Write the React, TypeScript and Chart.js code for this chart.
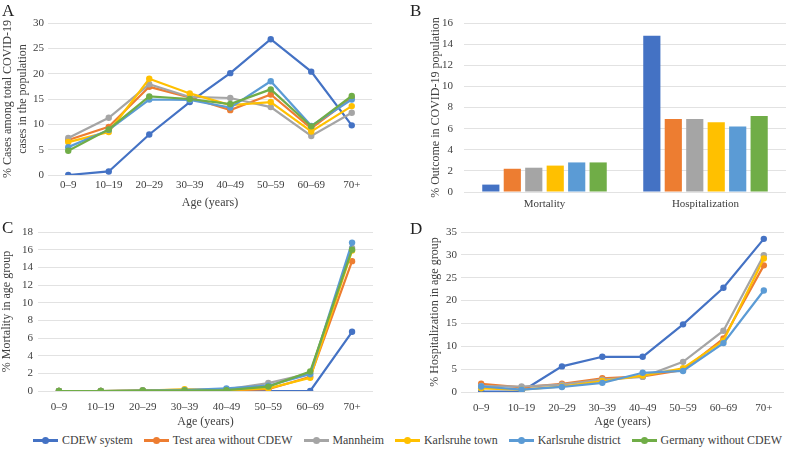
import React, { useEffect, useRef } from 'react';
import { Chart, registerables } from 'chart.js';
Chart.register(...registerables);

const FONT = '"Liberation Serif", "Times New Roman", serif';
const TEXT = '#404040';
const GRID = '#e2e2e2';

const ageGroups = ['0–9', '10–19', '20–29', '30–39', '40–49', '50–59', '60–69', '70+'];
const seriesNames = ['CDEW system', 'Test area without CDEW', 'Mannheim', 'Karlsruhe town', 'Karlsruhe district', 'Germany without CDEW'];
const seriesColors = ['#4472C4', '#ED7D31', '#A5A5A5', '#FFC000', '#5B9BD5', '#70AD47'];

// Panel A: % cases among total COVID-19 cases in the population
const casesCdew = [0, 0.7, 8.0, 14.4, 20.1, 26.8, 20.4, 9.8];
const casesTest = [6.9, 9.5, 17.4, 15.3, 12.8, 15.9, 9.2, 15.2];
const casesMannheim = [7.3, 11.3, 17.9, 15.4, 15.2, 13.4, 7.7, 12.3];
const casesKaTown = [6.5, 8.5, 19.0, 16.1, 13.8, 14.4, 8.6, 13.6];
const casesKaDistrict = [5.5, 8.9, 14.9, 14.8, 13.3, 18.5, 9.7, 14.9];
const casesGermany = [4.8, 9.0, 15.5, 15.0, 14.0, 16.9, 9.6, 15.6];

// Panel B: % outcome in COVID-19 population
const outcomeCategories = ['Mortality', 'Hospitalization'];
const mortalityOutcome = [0.7, 2.2, 2.3, 2.5, 2.8, 2.8];
const hospitalizationOutcome = [14.8, 6.9, 6.9, 6.6, 6.2, 7.2];

// Panel C: % mortality in age group
const mortCdew = [0, 0, 0, 0, 0, 0, 0, 6.7];
const mortTest = [0, 0, 0.05, 0.05, 0.05, 0.2, 1.6, 14.7];
const mortMannheim = [0, 0, 0.05, 0.15, 0.2, 0.9, 2.0, 16.2];
const mortKaTown = [0, 0, 0.05, 0.2, 0.1, 0.3, 1.5, 15.9];
const mortKaDistrict = [0, 0, 0.05, 0.1, 0.3, 0.6, 1.9, 16.8];
const mortGermany = [0, 0, 0.05, 0.05, 0.1, 0.5, 2.2, 16.0];

// Panel D: % hospitalization in age group (no Germany series)
const hospCdew = [0.1, 0.1, 5.6, 7.7, 7.7, 14.8, 22.8, 33.5];
const hospTest = [1.8, 1.0, 1.8, 3.0, 3.4, 4.8, 11.7, 27.7];
const hospMannheim = [1.3, 1.2, 1.6, 2.7, 3.3, 6.6, 13.4, 29.9];
const hospKaTown = [0.8, 0.5, 1.2, 2.4, 3.6, 5.2, 11.2, 29.2];
const hospKaDistrict = [1.2, 0.5, 1.1, 2.0, 4.2, 4.6, 10.7, 22.2];
const hospGermany: (number | null)[] = [null, null, null, null, null, null, null, null];

type Geom = {
  w: number; h: number;
  yWidth: number; yTickPad: number; yTitlePad: number;
  xHeight: number; xTickPad: number; xTitlePad: number;
  padTop: number; padRight: number;
};

function lineConfig(series: (number | null)[][], yMax: number, yStep: number, yTitle: string | string[], g: Geom): any {
  return {
    type: 'line',
    data: {
      labels: ageGroups,
      datasets: series.map((d, i) => ({
        label: seriesNames[i],
        data: d,
        borderColor: seriesColors[i],
        backgroundColor: seriesColors[i],
        pointBackgroundColor: seriesColors[i],
        pointBorderColor: seriesColors[i],
        pointRadius: 3.2,
        pointBorderWidth: 0,
        borderWidth: 2.2,
        tension: 0,
        order: series.length - i,
      })),
    },
    options: {
      responsive: false,
      animation: false,
      devicePixelRatio: 1,
      layout: { padding: { top: g.padTop, right: g.padRight, left: 0, bottom: 0 } },
      plugins: { legend: { display: false }, tooltip: { enabled: false } },
      scales: {
        x: {
          offset: true,
          grid: { display: false, drawTicks: false },
          border: { display: false },
          ticks: { color: TEXT, font: { family: FONT, size: 11 }, padding: g.xTickPad, maxRotation: 0, autoSkip: false },
          title: { display: true, text: 'Age (years)', color: TEXT, font: { family: FONT, size: 12, lineHeight: 1.2 }, padding: { top: 0, bottom: g.xTitlePad } },
          afterFit: (s: any) => { s.height = g.xHeight; },
        },
        y: {
          min: 0, max: yMax,
          grid: { color: GRID, lineWidth: 1, drawTicks: false },
          border: { display: false },
          ticks: { stepSize: yStep, color: TEXT, font: { family: FONT, size: 11 }, padding: g.yTickPad },
          title: { display: true, text: yTitle, color: TEXT, font: { family: FONT, size: 12, lineHeight: 1.2 }, padding: { top: g.yTitlePad, bottom: 0 } },
          afterFit: (s: any) => { s.width = g.yWidth; },
        },
      },
    },
  };
}

function barConfig(g: Geom): any {
  return {
    type: 'bar',
    data: {
      labels: outcomeCategories,
      datasets: seriesNames.map((n, i) => ({
        label: n,
        data: [mortalityOutcome[i], hospitalizationOutcome[i]],
        backgroundColor: seriesColors[i],
        borderWidth: 0,
        barPercentage: 0.8,
        categoryPercentage: 0.8,
      })),
    },
    options: {
      responsive: false,
      animation: false,
      devicePixelRatio: 1,
      layout: { padding: { top: g.padTop, right: g.padRight, left: 0, bottom: 0 } },
      plugins: { legend: { display: false }, tooltip: { enabled: false } },
      scales: {
        x: {
          grid: { display: false, drawTicks: false },
          border: { display: false },
          ticks: { color: TEXT, font: { family: FONT, size: 11 }, padding: g.xTickPad },
          afterFit: (s: any) => { s.height = g.xHeight; },
        },
        y: {
          min: 0, max: 16,
          grid: { color: GRID, lineWidth: 1, drawTicks: false },
          border: { display: false },
          ticks: { stepSize: 2, color: TEXT, font: { family: FONT, size: 11 }, padding: g.yTickPad },
          title: { display: true, text: '% Outcome in COVID-19 population', color: TEXT, font: { family: FONT, size: 12, lineHeight: 1.2 }, padding: { top: g.yTitlePad, bottom: 0 } },
          afterFit: (s: any) => { s.width = g.yWidth; },
        },
      },
    },
  };
}

function Panel({ config, left, top, w, h, letter, lx, ly }: any) {
  const ref = useRef<HTMLCanvasElement>(null);
  useEffect(() => {
    const c = new Chart(ref.current!, config);
    return () => c.destroy();
  }, []);
  return (
    <div style={{ position: 'absolute', left, top, width: w, height: h }}>
      <canvas ref={ref} width={w} height={h} style={{ width: w, height: h, display: 'block' }} />
      <div style={{ position: 'absolute', left: lx, top: ly, fontFamily: FONT, fontSize: 17, color: '#222', lineHeight: '17px' }}>{letter}</div>
    </div>
  );
}

const geomA: Geom = { w: 394, h: 215, yWidth: 48, yTickPad: 4, yTitlePad: 0.8, xHeight: 40, xTickPad: 4, xTitlePad: 4.8, padTop: 23, padRight: 22 };
const geomB: Geom = { w: 394, h: 215, yWidth: 70, yTickPad: 11, yTitlePad: 35, xHeight: 23, xTickPad: 6, xTitlePad: 0, padTop: 23, padRight: 2 };
const geomC: Geom = { w: 394, h: 215, yWidth: 38, yTickPad: 5, yTitlePad: 0, xHeight: 39, xTickPad: 10, xTitlePad: 1.3, padTop: 17, padRight: 21 };
const geomD: Geom = { w: 394, h: 215, yWidth: 67, yTickPad: 4, yTitlePad: 33.7, xHeight: 38, xTickPad: 10, xTitlePad: 1.3, padTop: 17, padRight: 0 };

const cfgA = lineConfig([casesCdew, casesTest, casesMannheim, casesKaTown, casesKaDistrict, casesGermany], 30, 5,
  ['% Cases among total COVID-19', 'cases in the population'], geomA);
const cfgB = barConfig(geomB);
const cfgC = lineConfig([mortCdew, mortTest, mortMannheim, mortKaTown, mortKaDistrict, mortGermany], 18, 2,
  '% Mortality in age group', geomC);
const cfgD = lineConfig([hospCdew, hospTest, hospMannheim, hospKaTown, hospKaDistrict, hospGermany], 35, 5,
  '% Hospitalization in age group', geomD);

function Legend() {
  return (
    <div style={{ position: 'absolute', left: 33, top: 432, display: 'flex', alignItems: 'center', fontFamily: FONT, fontSize: 11.9, color: TEXT, whiteSpace: 'nowrap' }}>
      {seriesNames.map((n, i) => (
        <div key={n} style={{ display: 'flex', alignItems: 'center', marginRight: i < seriesNames.length - 1 ? 11 : 0 }}>
          <div style={{ position: 'relative', width: 25, height: 8, marginRight: 4 }}>
            <div style={{ position: 'absolute', left: 0, top: 3, width: 25, height: 2.5, background: seriesColors[i] }} />
            <div style={{ position: 'absolute', left: 9, top: 0.5, width: 7, height: 7, borderRadius: '50%', background: seriesColors[i] }} />
          </div>
          <span style={{ lineHeight: '16px' }}>{n}</span>
        </div>
      ))}
    </div>
  );
}

export default function App() {
  return (
    <div style={{ position: 'fixed', left: 0, top: 0, width: 788, height: 460, background: '#fff', overflow: 'hidden' }}>
      <Panel config={cfgA} left={0} top={0} w={394} h={215} letter="A" lx={2} ly={2} />
      <Panel config={cfgB} left={394} top={0} w={394} h={215} letter="B" lx={16} ly={2} />
      <Panel config={cfgC} left={0} top={215} w={394} h={215} letter="C" lx={2} ly={4} />
      <Panel config={cfgD} left={394} top={215} w={394} h={215} letter="D" lx={16} ly={5} />
      <Legend />
    </div>
  );
}
